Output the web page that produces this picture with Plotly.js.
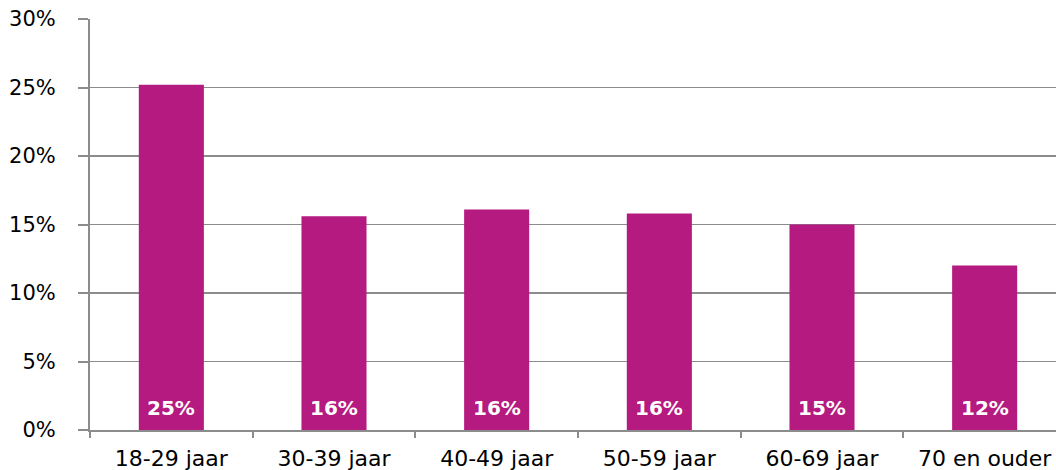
<!DOCTYPE html>
<html>
<head>
<meta charset="utf-8">
<script src="https://cdn.plot.ly/plotly-3.0.1.min.js"></script>
<style>
html, body { margin: 0; padding: 0; overflow: hidden; background: #fff; }
#chart { width: 1066px; height: 470px; }
</style>
</head>
<body>
<div id="chart"></div>
<script>
const categories = ["18-29 jaar", "30-39 jaar", "40-49 jaar", "50-59 jaar", "60-69 jaar", "70 en ouder"];
const values = [0.252, 0.156, 0.161, 0.158, 0.150, 0.120];
const labels = ["25%", "16%", "16%", "16%", "15%", "12%"];
const yTickVals = [0, 0.05, 0.10, 0.15, 0.20, 0.25, 0.30];
const yTickText = ["0%", "5%", "10%", "15%", "20%", "25%", "30%"];

const trace = {
  type: "bar",
  x: categories,
  y: values,
  marker: { color: "#B41A80" },
  hoverinfo: "none"
};

const annotations = categories.map((c, i) => ({
  x: c,
  y: 0,
  xref: "x",
  yref: "y",
  text: labels[i],
  showarrow: false,
  yanchor: "middle",
  yshift: 22,
  font: { family: "DejaVu Sans", size: 20, color: "#ffffff", weight: "bold" }
}));

const layout = {
  width: 1066,
  height: 470,
  margin: { l: 90, r: 0, t: 19, b: 40 },
  paper_bgcolor: "#ffffff",
  plot_bgcolor: "#ffffff",
  bargap: 0.6,
  showlegend: false,
  font: { family: "DejaVu Sans", size: 20, color: "#000000" },
  annotations: annotations,
  xaxis: {
    type: "category",
    range: [-0.5, 5.5],
    showline: true,
    linecolor: "#8c8c8c",
    linewidth: 2,
    ticks: "outside",
    tickson: "boundaries",
    ticklen: 6,
    tickwidth: 2,
    tickcolor: "#8c8c8c",
    showgrid: false,
    tickfont: { family: "DejaVu Sans", size: 22, color: "#000000" },
    ticklabelstandoff: 8
  },
  yaxis: {
    range: [0, 0.30],
    tickvals: yTickVals,
    ticktext: yTickText,
    showline: true,
    linecolor: "#8c8c8c",
    linewidth: 2,
    ticks: "outside",
    ticklen: 10,
    tickwidth: 2,
    tickcolor: "#8c8c8c",
    showgrid: true,
    gridcolor: "#8c8c8c",
    gridwidth: 1.5,
    zeroline: false,
    tickfont: { family: "DejaVu Sans", size: 21, color: "#000000" },
    ticklabelstandoff: 18
  }
};

Plotly.newPlot("chart", [trace], layout, { displayModeBar: false, staticPlot: true });
</script>
</body>
</html>
